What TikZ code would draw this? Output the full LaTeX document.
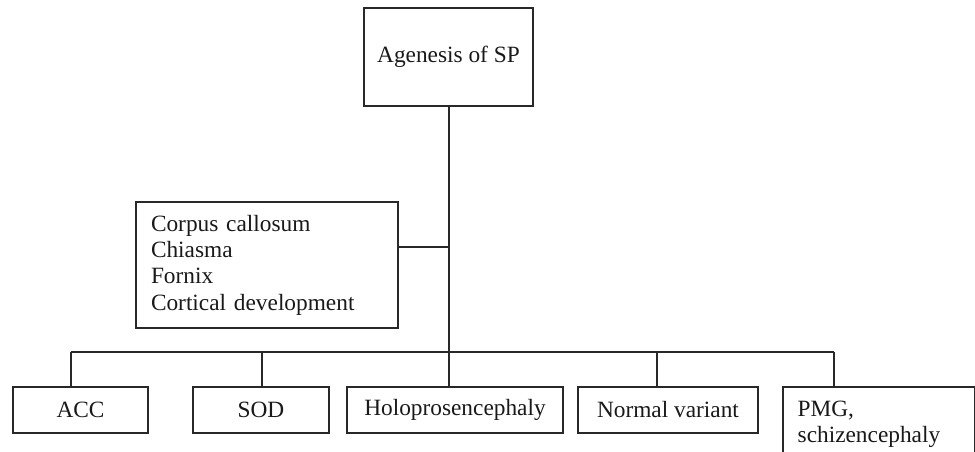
\documentclass[tikz,border=0pt]{standalone}
\usepackage{fontspec}
\setmainfont{Liberation Serif}

\tikzset{every picture/.style={line width=1pt}}
\tikzset{
  box/.style={draw={rgb, 255:red, 40; green, 40; blue, 40 }, text={rgb, 255:red, 25; green, 25; blue, 25 }, font=\fontsize{17.5}{19.8}\selectfont, inner sep=0pt},
  leaf/.style={box, minimum height=34.5pt},
  link/.style={draw={rgb, 255:red, 40; green, 40; blue, 40 }}
}

\begin{document}
\begin{tikzpicture}[x=0.75pt,y=0.75pt,yscale=-1,xscale=1]
	\useasboundingbox (0,0) rectangle (975,452);

	% Text Node
	\node [box, minimum width=126.75pt, minimum height=73.5pt] (agenesis) at (448.5,57) {Agenesis of SP};
	% Text Node
	\node [box, text width=174pt, inner xsep=11.25pt, minimum height=94.5pt, align=left] (features) at (267,265) {Corpus callosum\\Chiasma\\Fornix\\Cortical development};
	% Text Node
	\node [leaf, minimum width=101.25pt] (acc) at (80.5,410) {ACC};
	\node [leaf, minimum width=102pt] (sod) at (261,410) {SOD};
	\node [leaf, minimum width=162pt] (holo) at (455,410) {Holoprosencephaly};
	\node [leaf, minimum width=135pt] (normal) at (668,410) {Normal variant};
	% Text Node (open at the bottom)
	\node [box, draw=none, anchor=north west, text width=121.5pt, inner xsep=10.5pt, minimum height=54.75pt, align=left] (pmg) at (783,387) {PMG,\\schizencephaly};
	\draw [link] (pmg.south west) -- (pmg.north west) -- (pmg.north east) -- (pmg.south east);

	%Straight Lines
	\coordinate (hub) at (449,247);
	\coordinate (split) at (449,352);
	\draw [link] (agenesis.south -| hub) -- (hub |- holo.north);
	\draw [link] (hub) -- (hub -| features.east);
	\draw [link] (71,352) coordinate (busL) -- (834,352) coordinate (busR);
	\foreach \n/\x in {acc/71, sod/262, normal/657, pmg/834}
		\draw [link] (\x,352) coordinate (d\n) -- (d\n |- \n.north);

\end{tikzpicture}
\end{document}
